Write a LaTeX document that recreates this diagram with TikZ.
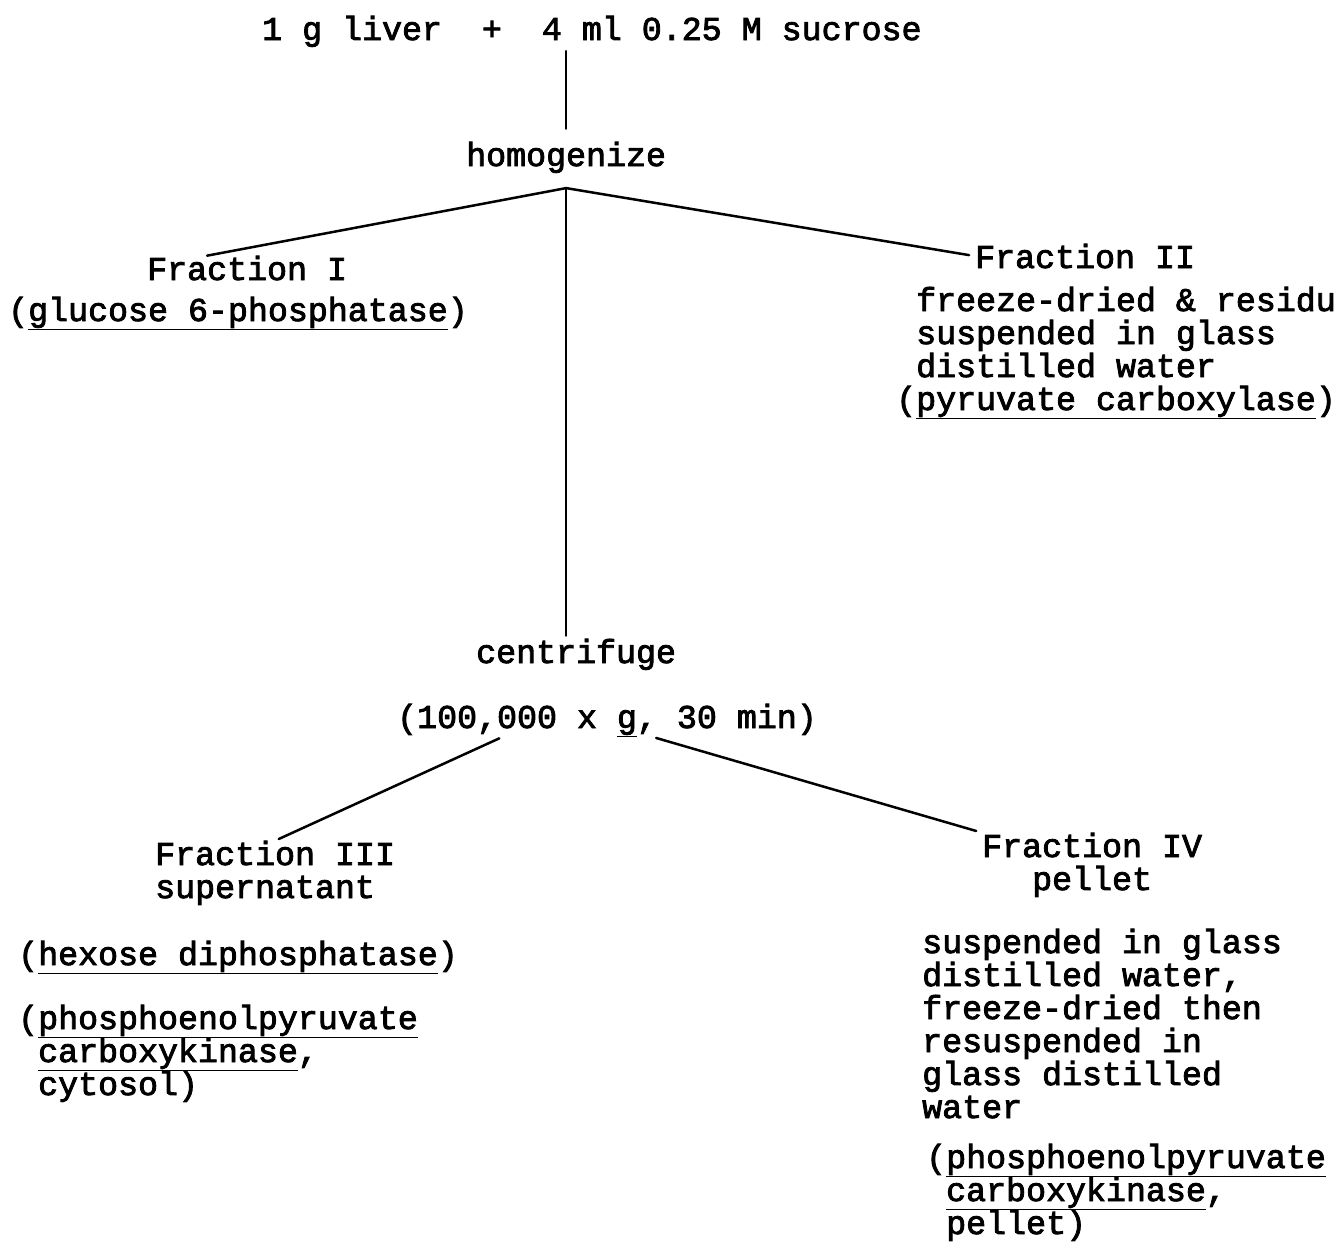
\documentclass[tikz,border=0pt]{standalone}
\usepackage{fontspec}
\setmonofont{Liberation Mono}[FakeBold=2.5]
\usetikzlibrary{calc}
\newcommand{\typeul}[1]{\underline{#1}}
\tikzset{
    typed/.style={font=\ttfamily\fontsize{33.3}{33}\selectfont, inner sep=0pt, anchor=base west, align=left,
        execute at begin node={\lineskiplimit=-\maxdimen}},
    link/.style={line width=2.5pt, line cap=round},
}

\begin{document}
\begin{tikzpicture}[x=1pt, y=-1pt]
            \useasboundingbox (0,0) rectangle (1341,1243);

            % multi-line nodes sit on the baseline of their last line
            \node[typed] (start) at (262,40) {1 g liver\ \ +\ \ 4 ml 0.25 M sucrose};
            \node[typed] (homog) at (466,166) {homogenize};
            \node[typed] (fracI) at (147,280) {Fraction I};
            \node[typed] (glucose) at (8,321) {(\typeul{glucose 6-phosphatase})};
            \node[typed] (fracII) at (975,268) {Fraction II};
            \node[typed] (pyruvate) at (916,410) {freeze-dried \& residu\\suspended in glass\\distilled water\\\llap{(}\typeul{pyruvate carboxylase})};
            \node[typed] (centri) at (476,663) {centrifuge};
            \node[typed] (spin) at (397,728) {(100,000 x \typeul{g}, 30 min)};
            \node[typed] (fracIII) at (155,898) {Fraction III\\supernatant};
            \node[typed] (hexose) at (18,965) {(\typeul{hexose diphosphatase})};
            \node[typed] (pepckI) at (18,1095) {(\typeul{phosphoenolpyruvate}\\\hphantom{(}\typeul{carboxykinase},\\\hphantom{(}cytosol)};
            \node[typed, align=center] (fracIV) at (982,890) {Fraction IV\\pellet};
            \node[typed] (wash) at (922,1118) {suspended in glass\\distilled water,\\freeze-dried then\\resuspended in\\glass distilled\\water};
            \node[typed] (pepckII) at (926,1234) {(\typeul{phosphoenolpyruvate}\\\hphantom{(}\typeul{carboxykinase},\\\hphantom{(}pellet)};

            \coordinate (fork) at ($(homog.south)+(0,15)$);
            \draw[link, shorten <=4pt, shorten >=13pt] (start.south -| fork) -- (fork |- homog.north);
            \draw[link] (fork) -- ($(fracI.north west)!0.3!(fracI.north east)$);
            \draw[link, shorten >=6pt] (fork) -- (fracII.west);
            \draw[link, shorten >=3pt] (fork) -- (fork |- centri.north);
            \draw[link, shorten <=3pt, shorten >=4pt] ($(spin.south west)!0.25!(spin.south east)$) -- (fracIII.north);
            \draw[link, shorten <=3pt, shorten >=6pt] ($(spin.south west)!0.61!(spin.south east)$) -- (fracIV.north west);
        \end{tikzpicture}
\end{document}
